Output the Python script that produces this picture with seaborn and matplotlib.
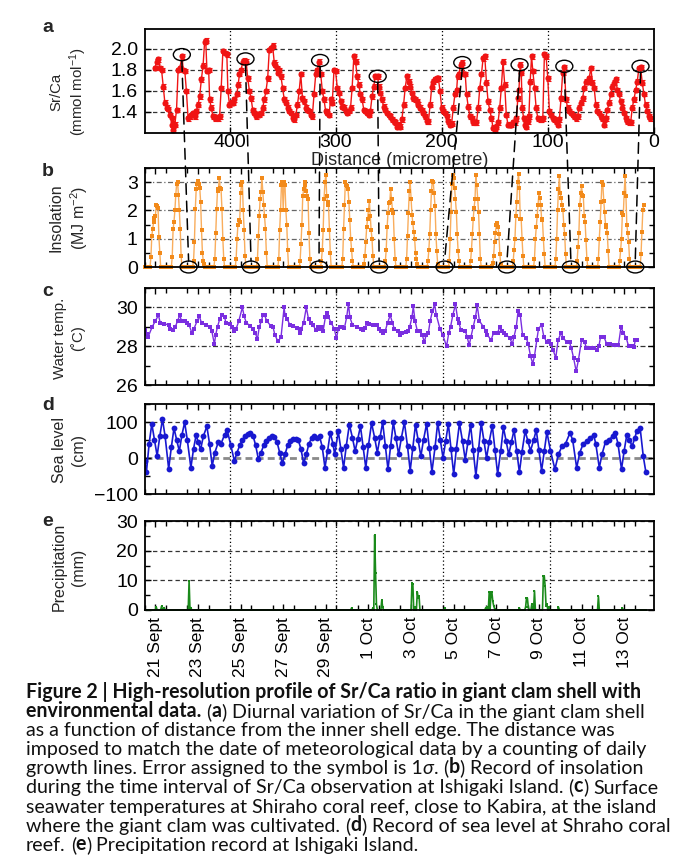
import numpy as np
import pandas as pd
import matplotlib
matplotlib.use("Agg")
import matplotlib.pyplot as plt
import seaborn as sns
from matplotlib.patches import Ellipse, ConnectionPatch

# ---------------- data ----------------
# (a) Sr/Ca versus distance from inner shell edge
sr_distance_um = [
    470.3, 468.8, 467.2, 465.7, 464.1, 462.5, 461.0, 459.4, 457.8, 456.3, 454.7,
    453.8,
    453.2, 451.6, 450.0, 448.5, 446.9,
    444.7,
    443.8, 442.2, 440.7, 439.1, 437.5, 436.0, 434.4, 432.9, 431.3, 429.7, 428.2, 426.6, 425.0, 423.5,
    422.5,
    421.3, 419.7,
    418.8, 417.2, 415.7, 414.1, 412.5, 411.0, 409.4, 407.9, 406.3, 404.7,
    402.6,
    401.6, 400.1, 398.5, 396.9, 395.4,
    393.2, 391.9,
    390.7, 389.1, 387.6, 386.0, 384.4, 382.9, 381.3, 379.7, 378.2, 376.6, 375.1, 373.5, 371.9, 370.4,
    368.8, 367.2, 365.7, 364.1, 362.6, 361.0, 359.4, 357.9,
    356.9, 355.7, 354.7,
    353.2, 351.6, 350.1, 348.5, 346.9, 345.4, 343.8, 342.3, 340.7, 339.1, 337.6, 336.0, 334.4,
    332.9, 331.3, 329.8, 328.2, 326.6, 325.1, 323.5, 322.0, 320.4, 318.8, 317.3, 315.7, 314.1,
    312.6, 311.0, 309.5, 307.9, 306.3, 304.8, 303.2, 301.6, 300.1, 298.5, 297.0, 295.4, 293.8,
    292.3, 290.7, 289.1, 287.6, 286.0, 284.5, 282.9, 281.3, 279.8, 278.2, 276.7, 275.1, 273.5,
    272.0, 270.4, 268.8, 267.3, 265.7, 264.2, 262.6,
    260.4,
    259.5, 257.9, 256.3, 254.8, 253.2, 251.7, 250.1, 248.5, 247.0, 245.4, 243.9, 242.3,
    240.7, 239.2, 237.6, 236.0, 234.5, 232.9, 231.3, 229.8, 228.2, 226.7, 225.1, 223.5,
    222.0, 220.4, 218.8, 217.3, 215.7, 214.2, 212.6, 211.0, 209.5, 207.9, 206.3, 204.8,
    203.2, 201.7, 200.1, 198.5, 197.0, 195.4, 193.9, 192.3, 190.7, 189.2, 187.6, 186.0,
    185.1, 183.9, 182.3, 180.7, 179.2, 177.9, 176.7,
    175.1, 173.5, 172.0, 170.4, 168.9, 167.3, 165.7, 164.2, 162.6, 161.1,
    159.5, 157.9, 156.4, 154.8, 153.2, 151.7, 150.1, 148.6, 147.0, 145.4,
    143.9, 142.3, 140.7, 139.2, 137.6, 136.1, 134.5, 132.9, 131.4, 129.8,
    128.3,
    127.3, 126.1, 125.1, 124.2, 122.9, 121.7, 120.4, 118.9, 117.9, 116.7, 115.4, 114.2,
    112.6, 111.1, 109.5, 107.9, 106.4, 104.8, 103.3, 101.7, 100.1, 98.6,
    97.0, 95.4, 93.9, 92.3, 90.8, 89.2, 87.6, 86.1, 84.5, 83.0,
    81.4, 79.8, 78.3, 76.7, 75.1, 73.6, 72.0, 70.5, 68.9, 67.3,
    65.8, 64.2, 62.6, 61.1, 59.5, 58.0, 56.4, 54.8, 53.3, 51.7,
    50.2, 48.6, 47.0, 45.5, 43.9, 42.3, 40.8, 39.2, 37.7, 36.1,
    34.5, 33.0, 31.4, 29.8, 28.3, 26.7, 25.2, 23.6, 22.0, 20.5,
    18.9, 17.3, 15.8, 14.2, 12.7, 11.1, 9.5, 8.0, 6.4, 4.9,
    3.3,
]
sr_ratio = [
    1.82, 1.88, 1.90, 1.82, 1.80, 1.64, 1.49, 1.44, 1.43, 1.37, 1.34,
    1.28,
    1.23, 1.28, 1.42, 1.80, 1.82,
    1.93,
    1.80, 1.79, 1.60, 1.34, 1.36, 1.37, 1.39, 1.36, 1.41, 1.47, 1.55, 1.71, 1.84, 2.07,
    2.08,
    1.79, 1.80,
    1.52, 1.44, 1.36, 1.34, 1.35, 1.34, 1.36, 1.63, 1.98, 1.96,
    1.95,
    1.60, 1.47, 1.49, 1.49, 1.52,
    1.57, 1.66,
    1.76, 1.80, 1.88, 1.89, 1.88, 1.72, 1.60, 1.53, 1.42, 1.39, 1.36, 1.38, 1.37, 1.39,
    1.44, 1.52, 1.60, 1.72, 1.99, 2.01, 2.03, 1.87,
    1.85, 1.82, 1.77,
    1.80, 1.74, 1.63, 1.52, 1.49, 1.44, 1.41, 1.39, 1.34, 1.33, 1.37, 1.47, 1.60,
    1.76, 1.53, 1.50, 1.44, 1.42, 1.41, 1.37, 1.36, 1.57, 1.76, 1.80, 1.88, 1.76,
    1.60, 1.52, 1.41, 1.39, 1.37, 1.52, 1.49, 1.80, 1.79, 1.63, 1.58, 1.50, 1.45,
    1.44, 1.41, 1.39, 1.41, 1.44, 1.63, 1.93, 1.88, 1.74, 1.66, 1.57, 1.52, 1.42,
    1.41, 1.39, 1.37, 1.41, 1.55, 1.64, 1.74,
    1.74,
    1.64, 1.58, 1.52, 1.45, 1.42, 1.39, 1.37, 1.36, 1.33, 1.31, 1.30, 1.26,
    1.28, 1.26, 1.33, 1.47, 1.63, 1.74, 1.69, 1.64, 1.58, 1.53, 1.52, 1.50,
    1.47, 1.44, 1.42, 1.39, 1.36, 1.31, 1.31, 1.47, 1.64, 1.69, 1.71, 1.72,
    1.72, 1.60, 1.44, 1.41, 1.39, 1.36, 1.31, 1.28, 1.29, 1.44, 1.57, 1.61,
    1.74, 1.76, 1.85, 1.87, 1.76, 1.76, 1.57,
    1.45, 1.36, 1.34, 1.30, 1.30, 1.30, 1.44, 1.63, 1.76, 1.91,
    1.93, 1.68, 1.50, 1.42, 1.34, 1.25, 1.23, 1.26, 1.30, 1.44,
    1.63, 1.88, 1.66, 1.37, 1.28, 1.28, 1.28, 1.30, 1.30, 1.34,
    1.53,
    1.61, 1.85, 1.77, 1.44, 1.34, 1.28, 1.26, 1.31, 1.36, 1.69, 1.93, 1.79,
    1.63, 1.44, 1.34, 1.33, 1.33, 1.34, 1.95, 1.93, 1.72, 1.41,
    1.37, 1.34, 1.33, 1.31, 1.28, 1.33, 1.53, 1.77, 1.83, 1.52,
    1.44, 1.41, 1.39, 1.37, 1.36, 1.34, 1.36, 1.44, 1.49, 1.53,
    1.63, 1.69, 1.69, 1.72, 1.82, 1.68, 1.63, 1.47, 1.41, 1.39,
    1.36, 1.34, 1.28, 1.34, 1.42, 1.49, 1.57, 1.64, 1.68, 1.71,
    1.61, 1.57, 1.50, 1.44, 1.39, 1.34, 1.31, 1.30, 1.30, 1.44,
    1.52, 1.61, 1.69, 1.82, 1.83, 1.68, 1.57, 1.47, 1.41, 1.36,
    1.34,
]
sr_sigma = 0.022

# circled Sr/Ca maxima (a) and matching insolation minima (b)
circle_a_um = [445.0, 385.0, 314.7, 260.4, 180.7, 126.7, 84.5, 12.7]
circle_a_ratio = [1.946, 1.905, 1.890, 1.740, 1.870, 1.850, 1.835, 1.835]
circle_b_day = [2.06, 4.99, 8.18, 11.0, 14.07, 17.0, 20.0, 23.02]

# (b) insolation, MJ m-2, hourly values from 07:00 each day (0 otherwise)
insolation_first_hour = 7
insolation_daytime = [
    [0.35, 1.1, 1.35, 1.6, 1.75, 1.8, 2.2, 2.15, 2.1, 1.05, 0.5, 0, 0],
    [0.35, 1.35, 1.6, 2.0, 2.55, 2.95, 3.0, 2.55, 2.0, 1.35, 0.4, 0, 0],
    [0.2, 0.9, 2.05, 2.75, 2.95, 3.05, 2.95, 2.8, 2.3, 1.3, 0.5, 0.2, 0.1],
    [0.3, 1.2, 2.05, 2.7, 2.75, 3.15, 2.8, 2.75, 2.05, 1.0, 0.3, 0, 0],
    [0.3, 1.0, 1.5, 1.65, 1.6, 2.6, 2.9, 3.0, 2.0, 1.3, 0.4, 0, 0],
    [0.3, 1.1, 1.8, 2.4, 2.65, 3.15, 2.65, 2.2, 1.8, 1.35, 0.5, 0, 0],
    [0.3, 1.3, 2.0, 2.9, 3.0, 2.0, 3.0, 2.9, 2.0, 1.5, 0.6, 0, 0],
    [0.2, 0.8, 1.5, 2.5, 2.75, 2.9, 3.0, 2.7, 2.5, 2.4, 1.2, 0.3, 0],
    [0.2, 0.6, 1.3, 2.4, 3.0, 3.25, 2.5, 2.3, 2.2, 1.3, 0.5, 0, 0],
    [0.3, 1.35, 2.2, 3.0, 2.9, 2.85, 2.75, 2.3, 1.65, 1.0, 0.6, 0.2, 0],
    [0.1, 0.4, 0.9, 1.4, 1.7, 2.0, 2.35, 1.8, 1.3, 1.0, 0.4, 0, 0],
    [0.2, 0.6, 1.4, 1.9, 2.25, 2.3, 2.75, 2.4, 2.0, 1.9, 1.0, 0.3, 0],
    [0.3, 1.1, 1.9, 2.7, 3.0, 2.4, 1.85, 1.55, 1.25, 1.0, 0.5, 0.3, 0.1],
    [0.2, 0.6, 1.15, 2.0, 2.7, 3.05, 3.0, 2.6, 2.15, 1.15, 0.55, 0.1, 0],
    [0.2, 1.0, 1.95, 2.95, 3.25, 3.15, 2.8, 2.4, 1.95, 1.15, 0.55, 0.2, 0],
    [0.2, 0.6, 1.15, 1.7, 2.1, 2.4, 3.25, 2.9, 2.4, 1.95, 1.15, 0.3, 0],
    [0.05, 0.15, 0.4, 0.9, 1.2, 1.5, 1.55, 1.4, 1.15, 0.45, 0.1, 0, 0],
    [0.2, 0.6, 1.0, 1.8, 2.3, 3.0, 3.3, 2.8, 1.7, 1.7, 1.0, 0.4, 0],
    [0.3, 1.0, 1.4, 1.8, 2.2, 2.6, 2.45, 2.2, 1.7, 1.65, 1.0, 0.45, 0],
    [0.3, 1.0, 2.0, 2.75, 3.2, 2.6, 2.45, 2.2, 2.0, 1.5, 1.15, 0.45, 0],
    [0.2, 0.7, 1.2, 2.2, 2.6, 2.85, 2.55, 2.5, 1.8, 1.6, 0.95, 0.3, 0],
    [0.3, 1.0, 1.6, 2.3, 3.0, 2.9, 2.35, 1.95, 1.5, 1.4, 1.2, 0.55, 0],
    [0.2, 0.6, 1.0, 1.9, 1.85, 2.6, 3.2, 2.5, 1.5, 1.2, 0.9, 0.3, 0],
    [0.45, 1.25, 2.0, 2.2],
]

# (c) water temperature, hours after 21 Sept 00:00
temp_hours = [
    0, 2.5, 4, 8.5, 12, 15.5, 17.5, 22, 27, 29,
    31.5, 34.5, 37, 39.5, 41.5, 45.5, 47.5, 50, 53, 55.5,
    59, 61.5, 64, 68.5, 73, 75.5, 78.5, 80, 82, 84.5,
    87, 90, 91.5, 96, 98.5, 100.5, 103, 106, 110, 112,
    114.5, 119, 121.5, 124.5, 127, 129, 131.5, 133, 135, 137.5,
    142, 144.5, 146.5, 150, 153.5, 157, 158, 160.5, 163.5, 167.5,
    172, 174.5, 176.5, 179, 182, 184.5, 187, 189.5, 192.5, 195,
    197.5, 199.5, 201, 203.5, 205.5, 207, 210, 213.5, 216, 218,
    220.5, 222.5, 225, 227.5, 229.5, 231, 234, 239, 243.5, 245.5,
    248, 250.5, 252.5, 257, 262, 264, 266.5, 268.5, 271, 273.5,
    276.5, 279, 281, 285, 287, 289.5, 294, 296.5, 298.5, 301,
    302.5, 304.5, 307, 310, 312.5, 315, 317, 319.5, 321.5, 324,
    326.5, 328.5, 332.5, 335.5, 340, 342.5, 344.5, 347, 350, 352.5,
    354, 356, 361, 363, 365.5, 367.5, 370, 372.5, 374.5, 377,
    381.5, 384, 386, 390, 393, 395.5, 397.5, 400, 402, 404.5,
    407, 411.5, 414, 416, 418.5, 420.5, 423, 425.5, 430, 432,
    434.5, 437, 439, 441.5, 443.5, 447, 449.5, 453, 455.5, 457.5,
    460, 463, 465.5, 469, 471.5, 476, 478.5, 480.5, 483, 486,
    488.5, 492, 495.5, 497.5, 501.5, 506, 509, 511.5, 513.5, 517.5,
    520.5, 524.5, 529, 533.5, 536.5, 539, 542.5, 545, 547.5, 549.5,
    551, 552.5, 554,
]
temp_c = [
    28.85, 28.65, 28.5, 29.0, 29.3, 29.6, 29.2, 29.15, 29.1, 28.9,
    28.85, 29.0, 29.3, 29.6, 29.3, 29.3, 29.2, 29.1, 28.7, 28.9,
    29.3, 29.55, 29.2, 29.1, 29.0, 28.8, 28.1, 28.6, 29.0, 29.4,
    29.6, 29.5, 29.2, 29.15, 29.0, 28.8, 28.9, 29.3, 30.0, 29.55,
    29.2, 29.05, 28.9, 28.7, 28.35, 29.0, 29.3, 29.6, 29.6, 29.3,
    29.05, 29.0, 28.6, 28.25, 28.45, 30.0, 29.6, 29.4, 29.1, 29.05,
    28.95, 28.7, 28.9, 29.2, 30.0, 29.4, 29.2, 29.1, 28.85, 29.0,
    28.9, 29.0, 28.8, 29.5, 29.7, 29.5, 29.2, 28.9, 28.4, 28.9,
    29.0, 29.0, 28.95, 29.5, 30.2, 29.5, 29.1, 29.0, 28.9, 28.85,
    28.95, 29.2, 29.15, 29.1, 29.1, 28.9, 28.8, 28.7, 28.8, 29.2,
    29.6, 29.2, 28.9, 28.8, 28.6, 28.7, 28.75, 28.8, 29.0, 29.5,
    30.05, 29.3, 28.8, 28.8, 28.6, 28.2, 28.6, 28.7, 29.3, 29.8,
    30.15, 29.6, 28.9, 28.6, 28.0, 28.7, 29.0, 29.6, 30.15, 29.4,
    29.2, 28.85, 28.8, 28.5, 28.05, 28.5, 29.0, 29.5, 30.1, 29.3,
    29.0, 28.8, 28.6, 28.3, 28.7, 28.7, 28.7, 29.0, 28.8, 28.7,
    28.6, 28.4, 28.1, 28.5, 29.0, 29.8, 29.6, 28.6, 28.4, 28.1,
    27.5, 27.1, 27.5, 28.3, 28.9, 29.1, 28.5, 28.2, 28.25, 28.1,
    27.8, 27.4, 28.3, 28.7, 28.4, 28.2, 28.2, 27.9, 27.4, 26.7,
    27.3, 28.3, 28.2, 27.9, 27.9, 27.9, 27.8, 28.0, 28.5, 28.45,
    28.1, 28.1, 28.05, 28.05, 29.0, 28.7, 28.4, 28.0, 28.0, 28.0,
    27.95, 28.3, 28.3,
]

# (d) sea level, hours after 21 Sept 00:00
sea_hours = [
    0, 2, 5, 8, 11, 14, 17, 20, 23, 27,
    30, 33, 36, 39, 42, 45, 48, 52, 55, 58,
    60, 63, 66, 70, 73, 76, 79, 83, 86, 90,
    93, 97,
    101, 104, 107, 110, 113, 116, 119, 122, 125, 128,
    131, 134, 137, 140, 143, 146, 149, 152, 155, 158,
    161, 164, 167, 170, 173, 176, 179, 182, 185, 188,
    191, 194, 197, 200, 203, 206, 209, 212, 214,
    218, 221, 224, 227, 230.5, 234, 237, 240, 243, 246,
    249, 252, 255.5, 259, 262, 265, 268, 271, 274, 277,
    280, 283, 286, 289, 292.5, 296, 299, 302, 305, 308,
    311, 314, 317.5, 320.5, 323.5, 327, 330, 333, 336, 339,
    342, 345, 348, 351, 354.5, 358, 361, 364, 367, 370,
    373, 376, 379, 382, 385, 388, 391.5, 394.5, 397.5, 401,
    404, 407, 410, 413, 416, 419, 422, 425, 428.5, 431.5,
    434.5, 438, 441, 444, 447, 450, 453, 457,
    462, 466, 470, 474, 479, 482, 486.5, 490, 494, 498,
    502, 505.5, 508, 512, 515, 519, 523, 527, 530, 533,
    537, 540, 543, 546, 549, 552, 554, 558, 561.5, 564.5,
]
sea_cm = [
    -8, -38, 40, 95, 50, 6, 60, 108, 60, -30,
    30, 83, 50, 19, 65, 99, 50, -27, 25, 65,
    45, 24, 60, 88, 40, -22, 15, 45, 40, 65,
    77, 35,
    -8, 15, 35, 50, 60, 68, 70, 62, 35, -3,
    15, 35, 48, 56, 60, 58, 45, 15, -15, 10,
    35, 48, 52, 52, 50, 25, -15, 10, 40, 55,
    62, 55, 60, 30, -27, 20, 70, 40, 10,
    74, 24, -27, 33, 93, 56, 19, 54, 88, 30,
    -27, 35, 97, 56, 15, 57, 99, 34, -31, 34,
    99, 55, 10, 55, 99, 32, -35, 29, 93, 49,
    5, 50, 95, 28, -38, 30, 98, 49, 0, 48,
    95, 25, -45, 26, 97, 46, -5, 44, 92, 21,
    -50, 24, 97, 48, 0, 45, 90, 22, -45, 20,
    85, 48, 10, 44, 78, 19, -40, 18, 75, 48,
    20, 49, 78, 22, -35, 19, 72, 20,
    -31, 10, 33, 40, 70, 50, -27, 15, 40, 47,
    55, 65, 40, -27, 10, 45, 51, 60, 70, 40,
    -31, 20, 65, 50, 33, 55, 74, 83, 5, -40,
]

# (e) precipitation, hourly; non-zero hours listed, all other hours 0
precip_last_hour = 565
precip_hours = [13, 19, 22, 50, 52, 233, 257, 259, 260, 261, 267, 268,
                301, 302, 304, 307, 308, 309, 338, 384, 386, 388, 390, 391,
                392, 393, 394, 422, 429, 430, 431, 432, 436, 439, 449, 450,
                451, 452, 453, 455, 466, 511, 538]
precip_mm = [1.0, 1.3, 0.8, 9.8, 0.8, 0.7, 0.7, 25.3, 12.5, 2.0, 3.3, 1.0,
             9.0, 8.8, 1.0, 6.0, 4.0, 4.7, 0.7, 0.7, 1.0, 6.0, 6.0, 6.0,
             3.0, 1.5, 0.5, 0.7, 1.0, 4.0, 4.0, 1.0, 2.0, 6.5, 11.5, 11.5,
             8.0, 1.5, 2.0, 1.0, 1.0, 4.6, 0.7]

date_labels = ["21 Sept", "23 Sept", "25 Sept", "27 Sept", "29 Sept", "1 Oct",
               "3 Oct", "5 Oct", "7 Oct", "9 Oct", "11 Oct", "13 Oct"]
date_label_days = [0.5, 2.5, 4.5, 6.5, 8.5, 10.5, 12.5, 14.5, 16.5, 18.5, 20.5, 22.5]
grid_days = [4, 9, 14, 19]

caption_lines = [
    [("Figure 2 | High-resolution profile of Sr/Ca ratio in giant clam shell with", "b", 0)],
    [("environmental data.", "b", 0), ("(", "n", 1), ("a", "b", 0), (")", "n", 0),
     ("Diurnal variation of Sr/Ca in the giant clam shell", "n", 1)],
    [("as a function of distance from the inner shell edge. The distance was", "n", 0)],
    [("imposed to match the date of meteorological data by a counting of daily", "n", 0)],
    [("growth lines. Error assigned to the symbol is 1", "n", 0), ("\u03c3", "i", 0), (".", "n", 0),
     ("(", "n", 1), ("b", "b", 0), (")", "n", 0), ("Record of insolation", "n", 1)],
    [("during the time interval of Sr/Ca observation at Ishigaki Island.", "n", 0),
     ("(", "n", 1), ("c", "b", 0), (")", "n", 0), ("Surface", "n", 1)],
    [("seawater temperatures at Shiraho coral reef, close to Kabira, at the island", "n", 0)],
    [("where the giant clam was cultivated.", "n", 0), ("(", "n", 1), ("d", "b", 0), (")", "n", 0),
     ("Record of sea level at Shraho coral", "n", 1)],
    [("reef.", "n", 0), ("(", "n", 1), ("e", "b", 0), (")", "n", 0),
     ("Precipitation record at Ishigaki Island.", "n", 1)],
]

# ---------------- build tables ----------------
df_sr = pd.DataFrame({"um": sr_distance_um, "ratio": sr_ratio})

ins_t, ins_v = [], []
for d, prof in enumerate(insolation_daytime):
    last = d == len(insolation_daytime) - 1
    for h in range(24):
        k = h - insolation_first_hour
        if 0 <= k < len(prof):
            v = prof[k]
        elif last and k >= len(prof):
            break
        else:
            v = 0.0
        ins_t.append(d + h / 24.0)
        ins_v.append(v)
df_ins = pd.DataFrame({"day": ins_t, "mj": ins_v})

df_temp = pd.DataFrame({"day": np.array(temp_hours) / 24.0, "t": temp_c})
df_sea = pd.DataFrame({"day": np.array(sea_hours) / 24.0, "cm": sea_cm})

pr = np.zeros(precip_last_hour + 1)
pr[precip_hours] = precip_mm
df_pr = pd.DataFrame({"day": np.arange(precip_last_hour + 1) / 24.0, "mm": pr})

# ---------------- style ----------------
sns.set_theme(style="ticks")
plt.rcParams["font.family"] = ["Liberation Sans", "DejaVu Sans"]
plt.rcParams["mathtext.fontset"] = "custom"
plt.rcParams["mathtext.rm"] = "Liberation Sans"
plt.rcParams["mathtext.it"] = "Liberation Sans:italic"
plt.rcParams["mathtext.bf"] = "Liberation Sans:bold"
plt.rcParams["axes.unicode_minus"] = True

W, H = 700, 865
fig = plt.figure(figsize=(W / 100, H / 100), dpi=100)
fig.patch.set_facecolor("white")


def px_axes(left, top, right, bottom):
    return fig.add_axes([left / W, 1 - bottom / H, (right - left) / W, (bottom - top) / H])


L, R = 144.7, 654
ax_a = px_axes(L, 29, R, 133)
ax_b = px_axes(L, 168, R, 267)
ax_c = px_axes(L, 288, R, 385)
ax_d = px_axes(L, 404, R, 494)
ax_e = px_axes(L, 521, R, 610)

RED = "#f01414"
ORANGE_L = "#f9ad5c"
ORANGE = "#f28a1a"
PURPLE = "#7a2ee0"
BLUE = "#1818d0"
GREEN = "#1a8a1a"
HDASH = (0, (3.5, 2.5))


def frame(ax):
    for s in ax.spines.values():
        s.set_linewidth(1.3)
        s.set_color("black")
        s.set_zorder(5)
    ax.tick_params(which="both", direction="in", top=True, right=True, width=1,
                   labelsize=14, pad=5, colors="black")
    ax.tick_params(which="major", length=4)
    ax.tick_params(which="minor", length=3.5)
    ax.set_xlabel("")
    ax.set_ylabel("")
    ax.set_facecolor("white")


# ---- (a) ----
sns.lineplot(data=df_sr, x="um", y="ratio", ax=ax_a, color=RED, lw=1.0, marker="o",
             markersize=4.4, markeredgewidth=0, estimator=None, sort=False, zorder=3)
ax_a.errorbar(sr_distance_um, sr_ratio, yerr=sr_sigma, fmt="none", ecolor=RED,
              elinewidth=0.8, capsize=1.8, capthick=0.8, zorder=3)
frame(ax_a)
ax_a.set_xlim(480, 0)
ax_a.set_ylim(1.2, 2.19)
ax_a.set_xticks([400, 300, 200, 100, 0])
ax_a.set_xticklabels(["400", "300", "200", "100", "0"])
ax_a.set_yticks([1.4, 1.6, 1.8, 2.0])
ax_a.set_yticklabels(["1.4", "1.6", "1.8", "2.0"])
ax_a.tick_params(top=False, right=False)
ax_a.tick_params(axis="x", pad=1.0)
ax_a.grid(True, axis="y", ls=HDASH, color="#333333", lw=0.9)
ax_a.grid(True, axis="x", ls=(0, (1, 2)), color="black", lw=0.9)
ax_a.set_xlabel("Distance (micrometre)", fontsize=13, labelpad=0.5)
for u, r in zip(circle_a_um, circle_a_ratio):
    ax_a.add_patch(Ellipse((u, r), width=16, height=0.115, fill=False, ec="black",
                           lw=1.0, zorder=6, clip_on=False))

# ---- (b)-(e) common x axis ----
for ax in (ax_b, ax_c, ax_d, ax_e):
    frame(ax)
    ax.set_xlim(0, 23.9)
    ax.set_xticks(date_label_days)
    ax.set_xticks(np.arange(0, 24), minor=True)
    ax.tick_params(axis="x", which="major", length=0)
    ax.tick_params(axis="x", which="minor", length=4)
    for gd in grid_days:
        ax.axvline(gd, color="black", ls=(0, (1, 2)), lw=0.9, zorder=1)
    if ax is not ax_e:
        ax.set_xticklabels([])

# ---- (b) ----
sns.lineplot(data=df_ins, x="day", y="mj", ax=ax_b, color=ORANGE_L, lw=1.0, marker="s",
             markersize=2.3, markerfacecolor=ORANGE, markeredgewidth=0, estimator=None,
             sort=False, zorder=3, clip_on=False)
frame(ax_b)
ax_b.set_ylim(0, 3.5)
ax_b.set_yticks([0, 1, 2, 3])
ax_b.set_yticklabels(["0", "1", "2", "3"])
ax_b.set_yticks([0.5, 1.5, 2.5, 3.5], minor=True)
ax_b.grid(True, axis="y", which="major", ls=(0, (4, 2, 1, 2)), color="#666666", lw=0.9)
for dd in circle_b_day:
    ax_b.add_patch(Ellipse((dd, 0.0), width=0.8, height=0.42, fill=False, ec="black",
                           lw=1.0, zorder=6, clip_on=False))

# ---- (c) ----
sns.lineplot(data=df_temp, x="day", y="t", ax=ax_c, color=PURPLE, lw=1.0, marker="s",
             markersize=2.2, markeredgewidth=0, estimator=None, sort=False, zorder=3)
frame(ax_c)
ax_c.set_ylim(26, 31)
ax_c.set_yticks([26, 28, 30])
ax_c.set_yticklabels(["26", "28", "30"])
ax_c.set_yticks([27, 29, 31], minor=True)
ax_c.grid(True, axis="y", which="major", ls=(0, (4, 2, 1, 2)), color="#333333", lw=0.9)

# ---- (d) ----
sns.lineplot(data=df_sea, x="day", y="cm", ax=ax_d, color=BLUE, lw=1.2, marker="o",
             markersize=4.2, markeredgewidth=0, estimator=None, sort=False, zorder=3)
frame(ax_d)
ax_d.set_ylim(-100, 150)
ax_d.set_yticks([-100, 0, 100])
ax_d.set_yticklabels(["\u2212100", "0", "100"])
ax_d.set_yticks([-50, 50, 150], minor=True)
ax_d.grid(True, axis="y", which="major", ls=HDASH, color="#333333", lw=0.9)
for val, gl in zip(ax_d.get_yticks(), ax_d.get_ygridlines()):
    if val == 0:
        gl.set_color("#8a8a8a")
        gl.set_linewidth(2.0)
        gl.set_linestyle((0, (2.5, 1.5)))

# ---- (e) ----
sns.lineplot(data=df_pr, x="day", y="mm", ax=ax_e, color=GREEN, lw=1.2, marker="s",
             markersize=2.0, markeredgewidth=0, estimator=None, sort=False, zorder=3,
             clip_on=False)
frame(ax_e)
ax_e.set_ylim(0, 30)
ax_e.set_yticks([0, 10, 20, 30])
ax_e.set_yticklabels(["0", "10", "20", "30"])
ax_e.set_yticks([5, 15, 25], minor=True)
ax_e.grid(True, axis="y", which="major", ls=HDASH, color="#333333", lw=0.9)
ax_e.set_xticklabels(date_labels, rotation=90, fontsize=12.5, va="top", ha="center")
ax_e.tick_params(axis="x", which="major", pad=5)

# ---- dashed links between circles ----
for u, r, dd in zip(circle_a_um, circle_a_ratio, circle_b_day):
    con = ConnectionPatch(xyA=(u, r - 0.058), coordsA=ax_a.transData,
                          xyB=(dd, 0.21), coordsB=ax_b.transData,
                          ls=(0, (7, 4.5)), lw=1.1, color="black", zorder=7)
    fig.add_artist(con)

# ---- y labels and panel letters ----
ylabels = [
    ("Sr/Ca\n(mmol mol$^{-1}$)", 92, 10.8),
    ("Insolation\n(MJ m$^{-2}$)", 218, 11.5),
    ("Water temp.\n(\u02daC)", 338, 10.8),
    ("Sea level\n(cm)", 450, 11.5),
    ("Precipitation\n(mm)", 567, 11.5),
]
for txt, yc, fs in ylabels:
    fig.text(69 / W, 1 - yc / H, txt, rotation=90, ha="center", va="center",
             multialignment="center", fontsize=fs, linespacing=1.3)

for letter, yc in zip("abcde", [28, 172, 292, 406, 522]):
    fig.text(42 / W, 1 - yc / H, letter, fontsize=14, fontweight="bold",
             ha="left", va="center")

# ---- caption ----
cap_ax = fig.add_axes([0, 0, 1, 1], zorder=-1)
cap_ax.set_axis_off()
CAP_FAMILY = ["Lato", "DejaVu Sans"]
CAP_SIZE = 14.1
GAP_PX = 5.0
for i, line in enumerate(caption_lines):
    y = 1 - (698 + 19.1 * i) / H
    prev = None
    for txt, code, gap in line:
        kw = dict(fontsize=CAP_SIZE, family=CAP_FAMILY,
                  fontweight="bold" if code == "b" else "normal",
                  fontstyle="italic" if code == "i" else "normal", color="#111111")
        if prev is None:
            prev = cap_ax.text(26 / W, y, txt, transform=fig.transFigure,
                               ha="left", va="baseline", **kw)
        else:
            prev = cap_ax.annotate(txt, xy=(1, 0), xycoords=prev,
                                   xytext=(gap * GAP_PX, 0), textcoords="offset pixels",
                                   ha="left", va="bottom", **kw)

fig.savefig("out.png", dpi=100, facecolor="white")
